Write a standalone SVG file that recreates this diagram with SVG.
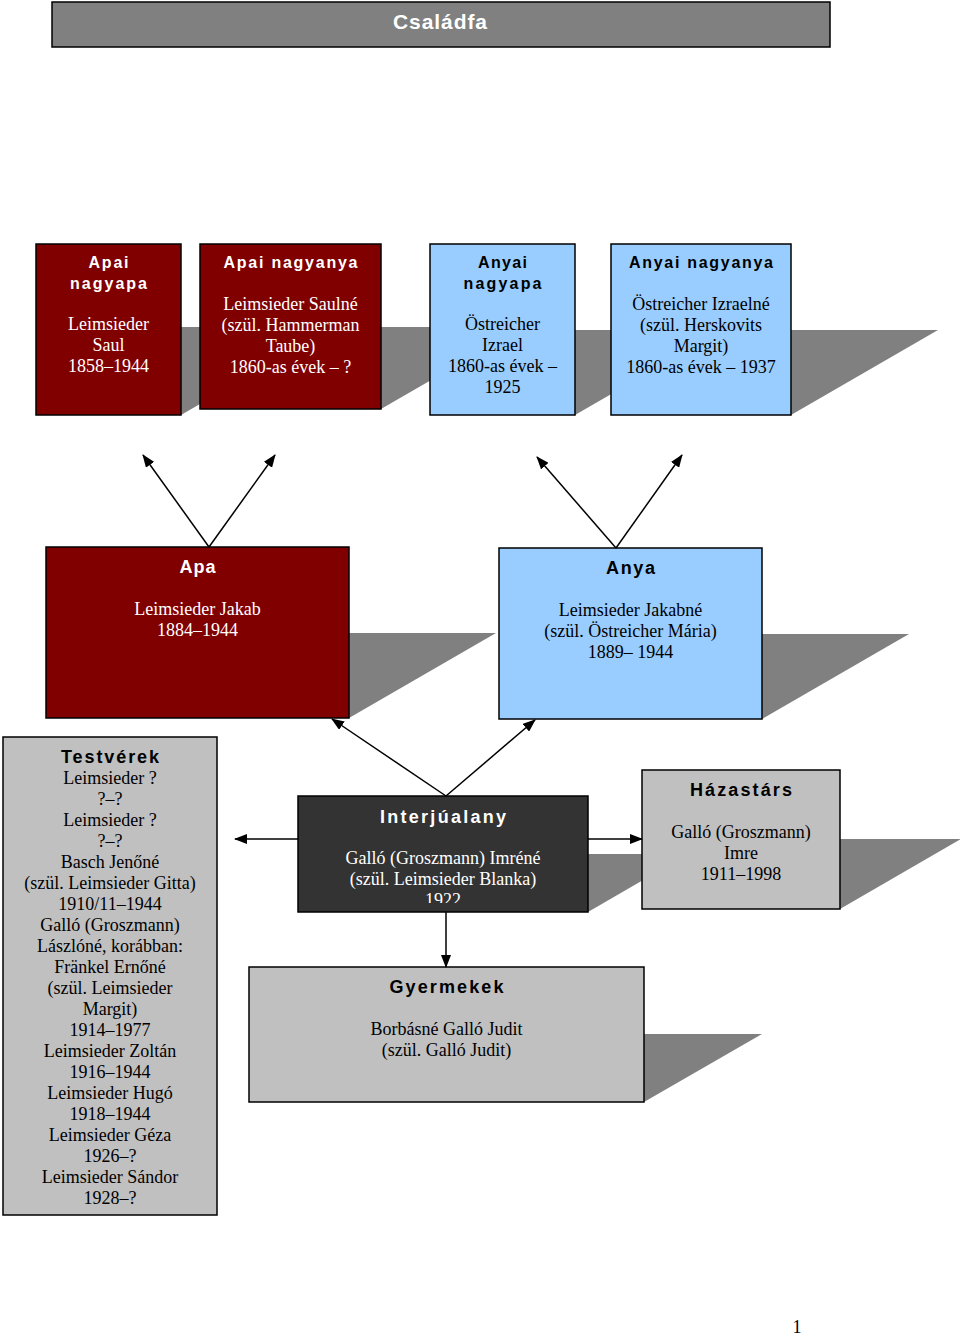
<svg xmlns="http://www.w3.org/2000/svg" width="960" height="1335" viewBox="0 0 960 1335">
<style>
.box{stroke:#000;stroke-width:1.5}
.red{fill:#800000}
.blue{fill:#99ccff}
.gray{fill:#c0c0c0}
.dark{fill:#333333}
.ttl{fill:#808080}
.sh{fill:#808080}
.h{font-family:"Liberation Sans",Arial,sans-serif;font-weight:bold;text-anchor:middle;font-size:18px}
.hs{font-size:16px}
.ht{font-size:21px}
.b{font-family:"Liberation Serif","Times New Roman",serif;font-size:18px;text-anchor:middle}
.w{fill:#ffffff}
.k{fill:#000000}
.c line{stroke:#000;stroke-width:1.5;marker-end:url(#ah)}
</style>
<defs>
<marker id="ah" markerUnits="userSpaceOnUse" markerWidth="13" markerHeight="10" refX="12" refY="5" orient="auto"><path d="M0,0 L13,5 L0,10 z" fill="#000"/></marker>
<clipPath id="clipI"><rect x="298" y="796" width="290" height="107"/></clipPath>
</defs>
<rect width="960" height="1335" fill="#ffffff"/>

<g id="shadows">
<polygon class="sh" points="181,327 333,327 181,415"/>
<polygon class="sh" points="381,327 523,327 381,409"/>
<polygon class="sh" points="575,330 722,330 575,415"/>
<polygon class="sh" points="791,330 938,330 791,415"/>
<polygon class="sh" points="349,633 496,633 349,718"/>
<polygon class="sh" points="762,634 909,634 762,719"/>
<polygon class="sh" points="588,854 688,854 588,912"/>
<polygon class="sh" points="840,839 961,839 840,909"/>
<polygon class="sh" points="644,1034 762,1034 644,1102"/>
</g>

<g id="title">
<rect class="box ttl" x="52" y="2" width="778" height="45"/>
<text class="h ht w" x="440" y="29" textLength="94" lengthAdjust="spacing">Családfa</text>
</g>

<g id="apai-nagyapa">
<rect class="box red" x="36" y="244" width="145" height="171"/>
<text class="h hs w" x="108.5" y="268" textLength="40" lengthAdjust="spacing">Apai</text>
<text class="h hs w" x="108.5" y="289" textLength="77" lengthAdjust="spacing">nagyapa</text>
<text class="b w" x="108.5" y="330">Leimsieder</text>
<text class="b w" x="108.5" y="351">Saul</text>
<text class="b w" x="108.5" y="372">1858–1944</text>
</g>

<g id="apai-nagyanya">
<rect class="box red" x="200" y="244" width="181" height="165"/>
<text class="h hs w" x="290.5" y="268" textLength="134" lengthAdjust="spacing">Apai nagyanya</text>
<text class="b w" x="290.5" y="310">Leimsieder Saulné</text>
<text class="b w" x="290.5" y="331">(szül. Hammerman</text>
<text class="b w" x="290.5" y="352">Taube)</text>
<text class="b w" x="290.5" y="373">1860-as évek – ?</text>
</g>

<g id="anyai-nagyapa">
<rect class="box blue" x="430" y="244" width="145" height="171"/>
<text class="h hs k" x="502.5" y="268" textLength="49" lengthAdjust="spacing">Anyai</text>
<text class="h hs k" x="502.5" y="289" textLength="78" lengthAdjust="spacing">nagyapa</text>
<text class="b k" x="502.5" y="330">Östreicher</text>
<text class="b k" x="502.5" y="351">Izrael</text>
<text class="b k" x="502.5" y="372">1860-as évek –</text>
<text class="b k" x="502.5" y="393">1925</text>
</g>

<g id="anyai-nagyanya">
<rect class="box blue" x="611" y="244" width="180" height="171"/>
<text class="h hs k" x="701" y="268" textLength="144" lengthAdjust="spacing">Anyai nagyanya</text>
<text class="b k" x="701" y="310">Östreicher Izraelné</text>
<text class="b k" x="701" y="331">(szül. Herskovits</text>
<text class="b k" x="701" y="352">Margit)</text>
<text class="b k" x="701" y="373">1860-as évek – 1937</text>
</g>

<g id="apa">
<rect class="box red" x="46" y="547" width="303" height="171"/>
<text class="h w" x="197.5" y="573" textLength="36" lengthAdjust="spacing">Apa</text>
<text class="b w" x="197.5" y="615">Leimsieder Jakab</text>
<text class="b w" x="197.5" y="636">1884–1944</text>
</g>

<g id="anya">
<rect class="box blue" x="499" y="548" width="263" height="171"/>
<text class="h k" x="630.5" y="574" textLength="49" lengthAdjust="spacing">Anya</text>
<text class="b k" x="630.5" y="616">Leimsieder Jakabné</text>
<text class="b k" x="630.5" y="637">(szül. Östreicher Mária)</text>
<text class="b k" x="630.5" y="658">1889– 1944</text>
</g>

<g id="testverek">
<rect class="box gray" x="3" y="737" width="214" height="478"/>
<text class="h k" x="110" y="763" textLength="98" lengthAdjust="spacing">Testvérek</text>
<text class="b k" x="110" y="784">Leimsieder ?</text>
<text class="b k" x="110" y="805">?–?</text>
<text class="b k" x="110" y="826">Leimsieder ?</text>
<text class="b k" x="110" y="847">?–?</text>
<text class="b k" x="110" y="868">Basch Jenőné</text>
<text class="b k" x="110" y="889">(szül. Leimsieder Gitta)</text>
<text class="b k" x="110" y="910">1910/11–1944</text>
<text class="b k" x="110" y="931">Galló (Groszmann)</text>
<text class="b k" x="110" y="952">Lászlóné, korábban:</text>
<text class="b k" x="110" y="973">Fränkel Ernőné</text>
<text class="b k" x="110" y="994">(szül. Leimsieder</text>
<text class="b k" x="110" y="1015">Margit)</text>
<text class="b k" x="110" y="1036">1914–1977</text>
<text class="b k" x="110" y="1057">Leimsieder Zoltán</text>
<text class="b k" x="110" y="1078">1916–1944</text>
<text class="b k" x="110" y="1099">Leimsieder Hugó</text>
<text class="b k" x="110" y="1120">1918–1944</text>
<text class="b k" x="110" y="1141">Leimsieder Géza</text>
<text class="b k" x="110" y="1162">1926–?</text>
<text class="b k" x="110" y="1183">Leimsieder Sándor</text>
<text class="b k" x="110" y="1204">1928–?</text>
</g>

<g id="interjualany">
<rect class="box dark" x="298" y="796" width="290" height="116"/>
<g clip-path="url(#clipI)">
<text class="h w" x="443" y="823" textLength="126" lengthAdjust="spacing">Interjúalany</text>
<text class="b w" x="443" y="864">Galló (Groszmann) Imréné</text>
<text class="b w" x="443" y="885">(szül. Leimsieder Blanka)</text>
<text class="b w" x="443" y="906">1922</text>
</g>
</g>

<g id="hazastars">
<rect class="box gray" x="642" y="770" width="198" height="139"/>
<text class="h k" x="741" y="796" textLength="102" lengthAdjust="spacing">Házastárs</text>
<text class="b k" x="741" y="838">Galló (Groszmann)</text>
<text class="b k" x="741" y="859">Imre</text>
<text class="b k" x="741" y="880">1911–1998</text>
</g>

<g id="gyermekek">
<rect class="box gray" x="249" y="967" width="395" height="135"/>
<text class="h k" x="446.5" y="993" textLength="114" lengthAdjust="spacing">Gyermekek</text>
<text class="b k" x="446.5" y="1035">Borbásné Galló Judit</text>
<text class="b k" x="446.5" y="1056">(szül. Galló Judit)</text>
</g>

<g id="connectors" class="c">
<line x1="209" y1="547" x2="143" y2="455"/>
<line x1="209" y1="547" x2="275" y2="455"/>
<line x1="616" y1="548" x2="537" y2="457"/>
<line x1="616" y1="548" x2="682" y2="455"/>
<line x1="446" y1="796" x2="332" y2="719"/>
<line x1="446" y1="796" x2="535" y2="720"/>
<line x1="298" y1="839" x2="235" y2="839"/>
<line x1="588" y1="839" x2="642" y2="839"/>
<line x1="446" y1="912" x2="446" y2="967"/>
</g>

<text x="797" y="1333" font-family="Liberation Serif, 'Times New Roman', serif" font-size="18" text-anchor="middle" fill="#000">1</text>
</svg>
